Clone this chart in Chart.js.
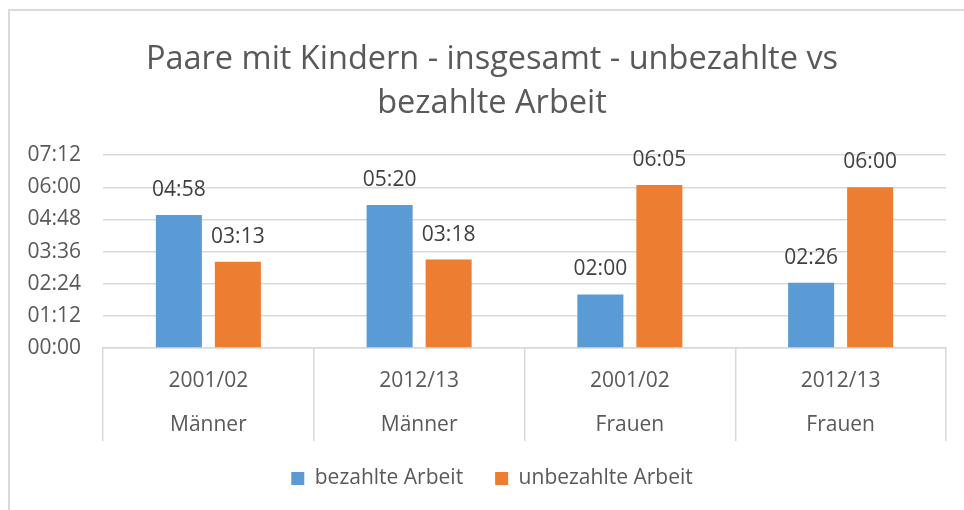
<!DOCTYPE html>
<html>
<head>
<meta charset="utf-8">
<script src="https://cdn.jsdelivr.net/npm/chart.js@4"></script>
<style>
  body { margin: 0; background: #fff; overflow: hidden; }
  #wrap { position: relative; width: 964px; height: 510px; }
  #frame { position: absolute; left: 8px; top: 9px; width: 970px; height: 520px; border-left: 2px solid #d9d9d9; border-top: 2px solid #d9d9d9; }
  canvas { position: absolute; left: 0; top: 0; }
</style>
</head>
<body>
<div id="wrap">
  <div id="frame"></div>
  <canvas id="myChart" width="964" height="510"></canvas>
</div>
<script>
// Zeiten in Minuten pro Tag
var years = ['2001/02', '2012/13', '2001/02', '2012/13'];
var groups = ['Männer', 'Männer', 'Frauen', 'Frauen'];
var paid = [298, 320, 120, 146];     // 04:58, 05:20, 02:00, 02:26
var unpaid = [193, 198, 365, 360];   // 03:13, 03:18, 06:05, 06:00
var yTicks = [0, 72, 144, 216, 288, 360, 432];

function hhmm(v) {
  var h = Math.floor(v / 60), m = Math.round(v % 60);
  return (h < 10 ? '0' : '') + h + ':' + (m < 10 ? '0' : '') + m;
}

var labels = years.map(function (y, i) { return [y, groups[i]]; });

var valueLabels = {
  id: 'valueLabels',
  afterDatasetsDraw: function (chart) {
    var c = chart.ctx;
    c.save();
    c.font = '21px "Open Sans"';
    c.fillStyle = '#404040';
    c.textAlign = 'center';
    c.textBaseline = 'middle';
    chart.data.datasets.forEach(function (ds, di) {
      chart.getDatasetMeta(di).data.forEach(function (bar, i) {
        c.fillText(hhmm(ds.data[i]), bar.x, bar.y - 25);
      });
    });
    c.restore();
  }
};

Chart.defaults.font.family = '"Open Sans"';
Chart.defaults.color = '#595959';

var ctx = document.getElementById('myChart').getContext('2d');
var myChart = new Chart(ctx, {
  type: 'bar',
  data: {
    labels: labels,
    datasets: [{
      label: 'bezahlte Arbeit',
      data: paid,
      backgroundColor: '#5B9BD5',
      categoryPercentage: 0.56,
      barPercentage: 0.78
    }, {
      label: 'unbezahlte Arbeit',
      data: unpaid,
      backgroundColor: '#ED7D31',
      categoryPercentage: 0.56,
      barPercentage: 0.78
    }]
  },
  options: {
    responsive: false,
    animation: false,
    layout: { padding: { left: 20, right: 0, top: 0, bottom: 11 } },
    plugins: {
      title: {
        display: true,
        text: ['Paare mit Kindern - insgesamt - unbezahlte vs', 'bezahlte Arbeit'],
        color: '#595959',
        font: { size: 32.5, weight: 'normal', lineHeight: 1.34 },
        padding: { top: 38, bottom: 30 }
      },
      legend: {
        position: 'bottom',
        labels: {
          boxWidth: 13,
          boxHeight: 13,
          padding: 32,
          color: '#595959',
          font: { size: 21 }
        }
      },
      tooltip: { enabled: false }
    },
    scales: {
      y: {
        min: 0,
        max: 432,
        afterBuildTicks: function (s) { s.ticks = yTicks.map(function (v) { return { value: v }; }); },
        afterFit: function (s) { s.width = 83; },
        border: { display: false },
        grid: { color: '#d9d9d9', lineWidth: 1.5, drawTicks: false },
        ticks: {
          padding: 22,
          color: '#595959',
          font: { size: 21 },
          callback: function (v) { return hhmm(v); }
        }
      },
      // leerer Rand rechts
      yRight: {
        position: 'right',
        afterFit: function (s) { s.width = 18; },
        border: { display: false },
        grid: { display: false },
        ticks: { display: false }
      },
      // Trennlinien zwischen den Kategorien (Höhe 0, Linien ragen nach unten)
      sep: {
        type: 'category',
        position: 'bottom',
        weight: -1,
        afterFit: function (s) { s.height = 0; },
        border: { display: false },
        grid: { offset: true, drawOnChartArea: false, drawTicks: true, tickLength: 93, color: '#d9d9d9', lineWidth: 1.5 },
        ticks: { display: false }
      },
      x: {
        weight: 0,
        afterFit: function (s) { s.height = 88; },
        border: { display: true, color: '#d9d9d9', width: 1.5 },
        grid: { offset: true, drawOnChartArea: false, drawTicks: false },
        ticks: {
          padding: 11,
          color: '#595959',
          font: { size: 21, lineHeight: 2.1 },
          maxRotation: 0,
          autoSkip: false
        }
      }
    }
  },
  plugins: [valueLabels]
});
</script>
</body>
</html>
